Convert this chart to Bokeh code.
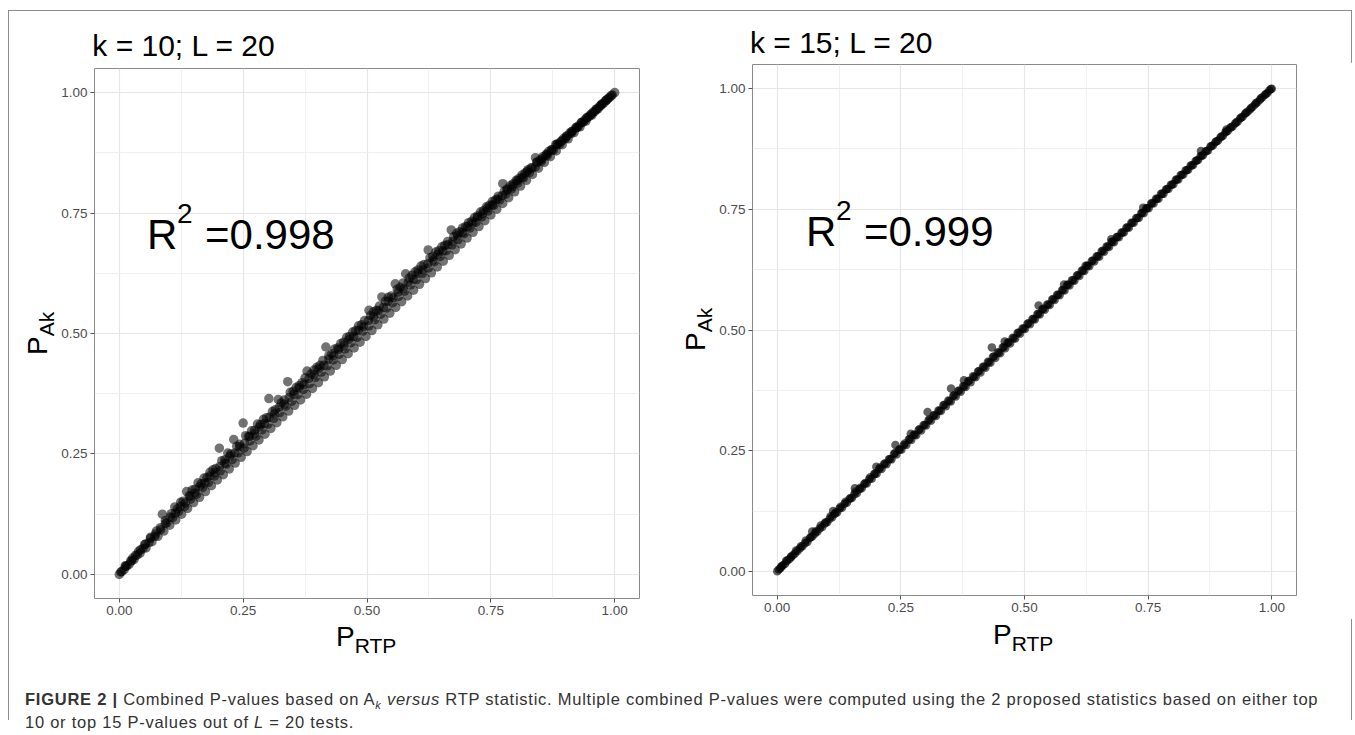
import math
from bokeh.plotting import figure
from bokeh.models import Label, FixedTicker, NumeralTickFormatter, Range1d, Div
from bokeh.layouts import row, column
from bokeh.embed import file_html
from bokeh.resources import INLINE

FONT = "Liberation Sans"

tick_values = [0.0, 0.25, 0.5, 0.75, 1.0]
minor_values = [0.125, 0.375, 0.625, 0.875]
panel_titles = ["k = 10; L = 20", "k = 15; L = 20"]
r2_values = ["=0.998", "=0.999"]
x_label_main, x_label_sub = "P", "RTP"
y_label_main, y_label_sub = "P", "Ak"

# ---- panel 1: k = 10 (P_RTP vs P_Ak) ----
rtp_k10 = [
    0.000, 0.005, 0.010, 0.015, 0.020, 0.025, 0.030, 0.036, 0.042, 0.048, 0.054, 0.060, 0.066, 0.072, 0.078,
    0.084, 0.090, 0.096, 0.102, 0.108, 0.114, 0.120, 0.126, 0.132, 0.138, 0.144, 0.150, 0.156, 0.162, 0.168,
    0.174, 0.180, 0.186, 0.192, 0.198, 0.204, 0.210, 0.216, 0.222, 0.228, 0.234, 0.240, 0.246, 0.252, 0.258,
    0.264, 0.270, 0.276, 0.282, 0.288, 0.294, 0.300, 0.306, 0.312, 0.318, 0.324, 0.330, 0.336, 0.342, 0.348,
    0.354, 0.360, 0.366, 0.372, 0.378, 0.384, 0.390, 0.396, 0.402, 0.408, 0.414, 0.420, 0.426, 0.432, 0.438,
    0.444, 0.450, 0.456, 0.462, 0.468, 0.474, 0.480, 0.486, 0.492, 0.498, 0.504, 0.510, 0.516, 0.522, 0.528,
    0.534, 0.540, 0.546, 0.552, 0.558, 0.564, 0.570, 0.576, 0.582, 0.588, 0.594, 0.600, 0.606, 0.612, 0.618,
    0.624, 0.630, 0.636, 0.642, 0.648, 0.654, 0.660, 0.666, 0.672, 0.678, 0.684, 0.690, 0.696, 0.702, 0.708,
    0.714, 0.720, 0.726, 0.732, 0.738, 0.744, 0.750, 0.756, 0.762, 0.768, 0.774, 0.780, 0.786, 0.792, 0.798,
    0.804, 0.810, 0.816, 0.822, 0.828, 0.834, 0.840, 0.846, 0.852, 0.858, 0.864, 0.870, 0.876, 0.882, 0.888,
    0.894, 0.900, 0.906, 0.912, 0.918, 0.924, 0.930, 0.936, 0.942, 0.948, 0.954, 0.960, 0.966, 0.972, 0.978,
    0.984, 0.990, 0.995, 1.000,
    0.012, 0.027, 0.039, 0.051, 0.063, 0.075, 0.087, 0.093, 0.105, 0.112, 0.117, 0.124, 0.129, 0.136, 0.141,
    0.147, 0.153, 0.159, 0.165, 0.171, 0.177, 0.183, 0.189, 0.195, 0.202, 0.207, 0.213, 0.219, 0.225, 0.231,
    0.237, 0.243, 0.250, 0.255, 0.261, 0.267, 0.273, 0.279, 0.285, 0.291, 0.297, 0.302, 0.309, 0.315, 0.321,
    0.327, 0.333, 0.340, 0.345, 0.351, 0.357, 0.363, 0.369, 0.375, 0.379, 0.387, 0.393, 0.399, 0.405, 0.411,
    0.417, 0.423, 0.429, 0.435, 0.441, 0.447, 0.453, 0.459, 0.465, 0.471, 0.477, 0.483, 0.489, 0.495, 0.504,
    0.507, 0.513, 0.519, 0.525, 0.530, 0.537, 0.543, 0.549, 0.557, 0.561, 0.567, 0.573, 0.578, 0.585, 0.591,
    0.597, 0.603, 0.609, 0.615, 0.6235, 0.627, 0.633, 0.639, 0.645, 0.651, 0.657, 0.663, 0.670, 0.675, 0.681,
    0.687, 0.693, 0.699, 0.705, 0.711, 0.717, 0.723, 0.729, 0.735, 0.741, 0.747, 0.753, 0.759, 0.765, 0.774,
    0.777, 0.783, 0.789, 0.795, 0.801, 0.807, 0.813, 0.819, 0.825, 0.831, 0.840, 0.843, 0.849, 0.855, 0.861,
    0.867, 0.873, 0.881, 0.885, 0.891, 0.897, 0.903, 0.909, 0.915, 0.921, 0.927, 0.933, 0.939, 0.945, 0.951,
    0.957, 0.963, 0.969, 0.975, 0.981, 0.987,
    0.003, 0.013, 0.023, 0.033, 0.043, 0.053, 0.063, 0.073, 0.083, 0.093, 0.103, 0.113, 0.123, 0.133, 0.143,
    0.153, 0.163, 0.173, 0.183, 0.193, 0.203, 0.213, 0.223, 0.233, 0.243, 0.253, 0.263, 0.273, 0.283, 0.293,
    0.303, 0.313, 0.323, 0.333, 0.343, 0.353, 0.363, 0.373, 0.383, 0.393, 0.403, 0.413, 0.423, 0.433, 0.443,
    0.453, 0.463, 0.473, 0.483, 0.493, 0.503, 0.513, 0.523, 0.533, 0.543, 0.553, 0.563, 0.573, 0.583, 0.593,
    0.603, 0.613, 0.623, 0.633, 0.643, 0.653, 0.663, 0.673, 0.683, 0.693, 0.703, 0.713, 0.723, 0.733, 0.743,
    0.753, 0.763, 0.773, 0.783, 0.793, 0.803, 0.813, 0.823, 0.833, 0.843, 0.853, 0.863, 0.873, 0.883, 0.893,
    0.903, 0.913, 0.923, 0.933, 0.943, 0.953, 0.963, 0.973, 0.983, 0.993,
]
ak_k10 = [
    0.000, 0.006, 0.010, 0.017, 0.021, 0.028, 0.031, 0.040, 0.044, 0.054, 0.055, 0.066, 0.068, 0.079, 0.079,
    0.093, 0.090, 0.107, 0.102, 0.118, 0.113, 0.131, 0.125, 0.141, 0.137, 0.156, 0.149, 0.166, 0.160, 0.180,
    0.172, 0.191, 0.184, 0.204, 0.196, 0.215, 0.207, 0.229, 0.219, 0.238, 0.231, 0.252, 0.243, 0.262, 0.255,
    0.277, 0.267, 0.287, 0.279, 0.300, 0.291, 0.312, 0.303, 0.324, 0.315, 0.336, 0.327, 0.349, 0.339, 0.359,
    0.351, 0.373, 0.362, 0.384, 0.374, 0.396, 0.386, 0.409, 0.398, 0.420, 0.410, 0.433, 0.422, 0.445, 0.434,
    0.457, 0.446, 0.468, 0.458, 0.481, 0.470, 0.492, 0.482, 0.505, 0.494, 0.516, 0.506, 0.529, 0.518, 0.540,
    0.530, 0.553, 0.542, 0.564, 0.554, 0.577, 0.566, 0.588, 0.578, 0.601, 0.590, 0.612, 0.602, 0.625, 0.614,
    0.636, 0.626, 0.649, 0.638, 0.660, 0.650, 0.672, 0.662, 0.684, 0.674, 0.695, 0.686, 0.707, 0.698, 0.719,
    0.710, 0.731, 0.722, 0.742, 0.734, 0.754, 0.746, 0.766, 0.758, 0.777, 0.770, 0.789, 0.782, 0.800, 0.794,
    0.812, 0.806, 0.823, 0.818, 0.834, 0.830, 0.846, 0.843, 0.857, 0.855, 0.869, 0.867, 0.880, 0.879, 0.892,
    0.892, 0.904, 0.904, 0.915, 0.917, 0.927, 0.929, 0.938, 0.941, 0.950, 0.953, 0.961, 0.966, 0.973, 0.978,
    0.985, 0.990, 0.995, 1.000,
    0.018, 0.034, 0.048, 0.062, 0.077, 0.090, 0.125, 0.112, 0.126, 0.140, 0.136, 0.150, 0.152, 0.172, 0.163,
    0.175, 0.177, 0.190, 0.188, 0.200, 0.201, 0.212, 0.217, 0.220, 0.262, 0.236, 0.238, 0.252, 0.250, 0.280,
    0.266, 0.270, 0.314, 0.288, 0.287, 0.298, 0.299, 0.312, 0.311, 0.322, 0.325, 0.365, 0.338, 0.342, 0.363,
    0.356, 0.362, 0.400, 0.378, 0.380, 0.388, 0.392, 0.398, 0.408, 0.422, 0.416, 0.424, 0.430, 0.434, 0.444,
    0.472, 0.454, 0.458, 0.468, 0.470, 0.479, 0.482, 0.492, 0.494, 0.503, 0.506, 0.516, 0.518, 0.527, 0.548,
    0.537, 0.545, 0.548, 0.557, 0.576, 0.567, 0.575, 0.578, 0.603, 0.592, 0.596, 0.605, 0.624, 0.615, 0.621,
    0.628, 0.632, 0.640, 0.643, 0.6735, 0.657, 0.660, 0.669, 0.672, 0.680, 0.683, 0.691, 0.715, 0.701, 0.708,
    0.711, 0.719, 0.722, 0.730, 0.733, 0.741, 0.744, 0.752, 0.755, 0.763, 0.766, 0.774, 0.777, 0.785, 0.811,
    0.795, 0.800, 0.807, 0.811, 0.818, 0.822, 0.829, 0.833, 0.840, 0.844, 0.865, 0.856, 0.860, 0.867, 0.871,
    0.878, 0.882, 0.8925, 0.894, 0.898, 0.905, 0.909, 0.916, 0.920, 0.927, 0.931, 0.938, 0.943, 0.949, 0.954,
    0.960, 0.965, 0.971, 0.977, 0.983, 0.988,
    0.005, 0.017, 0.028, 0.040, 0.051, 0.063, 0.075, 0.084, 0.097, 0.106, 0.119, 0.127, 0.141, 0.148, 0.162,
    0.169, 0.183, 0.190, 0.204, 0.211, 0.224, 0.231, 0.245, 0.252, 0.265, 0.272, 0.286, 0.292, 0.306, 0.313,
    0.326, 0.333, 0.347, 0.353, 0.367, 0.374, 0.387, 0.394, 0.407, 0.414, 0.427, 0.434, 0.447, 0.454, 0.467,
    0.474, 0.487, 0.494, 0.507, 0.514, 0.527, 0.534, 0.547, 0.554, 0.567, 0.574, 0.586, 0.593, 0.606, 0.613,
    0.625, 0.632, 0.645, 0.652, 0.664, 0.671, 0.684, 0.691, 0.703, 0.710, 0.722, 0.729, 0.741, 0.748, 0.760,
    0.767, 0.779, 0.786, 0.798, 0.805, 0.817, 0.824, 0.836, 0.843, 0.855, 0.862, 0.873, 0.881, 0.892, 0.900,
    0.910, 0.919, 0.928, 0.938, 0.947, 0.956, 0.966, 0.975, 0.984, 0.994,
]

# ---- panel 2: k = 15 ----
rtp_k15 = [
    0.000, 0.003, 0.006, 0.009, 0.012, 0.016, 0.020, 0.024, 0.028, 0.032, 0.036, 0.041, 0.046, 0.051, 0.056,
    0.061, 0.066, 0.071, 0.076, 0.081, 0.086, 0.091, 0.096, 0.101, 0.106, 0.111, 0.116, 0.121, 0.126, 0.131,
    0.136, 0.141, 0.146, 0.151, 0.156, 0.161, 0.166, 0.171, 0.176, 0.181, 0.186, 0.191, 0.196, 0.201, 0.206,
    0.211, 0.216, 0.221, 0.226, 0.231, 0.236, 0.241, 0.246, 0.251, 0.256, 0.261, 0.266, 0.271, 0.276, 0.281,
    0.286, 0.291, 0.296, 0.301, 0.306, 0.311, 0.316, 0.321, 0.326, 0.331, 0.336, 0.341, 0.346, 0.351, 0.356,
    0.361, 0.366, 0.371, 0.376, 0.381, 0.386, 0.391, 0.396, 0.401, 0.406, 0.411, 0.416, 0.421, 0.426, 0.431,
    0.436, 0.441, 0.446, 0.451, 0.456, 0.461, 0.466, 0.471, 0.476, 0.481, 0.486, 0.491, 0.496, 0.501, 0.506,
    0.511, 0.516, 0.521, 0.526, 0.531, 0.536, 0.541, 0.546, 0.551, 0.556, 0.561, 0.566, 0.571, 0.576, 0.581,
    0.586, 0.591, 0.596, 0.601, 0.606, 0.611, 0.616, 0.621, 0.626, 0.631, 0.636, 0.641, 0.646, 0.651, 0.656,
    0.661, 0.666, 0.671, 0.676, 0.681, 0.686, 0.691, 0.696, 0.701, 0.706, 0.711, 0.716, 0.721, 0.726, 0.731,
    0.736, 0.741, 0.746, 0.751, 0.756, 0.761, 0.766, 0.771, 0.776, 0.781, 0.786, 0.791, 0.796, 0.801, 0.806,
    0.811, 0.816, 0.821, 0.826, 0.831, 0.836, 0.841, 0.846, 0.851, 0.856, 0.861, 0.866, 0.871, 0.876, 0.881,
    0.886, 0.891, 0.896, 0.901, 0.906, 0.911, 0.916, 0.921, 0.926, 0.931, 0.936, 0.941, 0.946, 0.951, 0.956,
    0.961, 0.966, 0.971, 0.976, 0.981, 0.986, 0.991, 0.995, 1.000,
    0.008, 0.018, 0.028, 0.038, 0.048, 0.058, 0.068, 0.078, 0.088, 0.098, 0.108, 0.118, 0.128, 0.138, 0.148,
    0.158, 0.168, 0.178, 0.188, 0.198, 0.208, 0.218, 0.228, 0.238, 0.248, 0.258, 0.268, 0.278, 0.288, 0.298,
    0.308, 0.318, 0.328, 0.338, 0.348, 0.358, 0.368, 0.378, 0.388, 0.398, 0.408, 0.418, 0.428, 0.438, 0.448,
    0.458, 0.468, 0.478, 0.488, 0.498, 0.508, 0.518, 0.528, 0.538, 0.548, 0.558, 0.568, 0.578, 0.588, 0.598,
    0.608, 0.618, 0.628, 0.638, 0.648, 0.658, 0.668, 0.678, 0.688, 0.698, 0.708, 0.718, 0.728, 0.738, 0.748,
    0.758, 0.768, 0.778, 0.788, 0.798, 0.808, 0.818, 0.828, 0.838, 0.848, 0.858, 0.868, 0.878, 0.888, 0.898,
    0.908, 0.918, 0.928, 0.938, 0.948, 0.958, 0.968, 0.978, 0.988, 0.998,
    0.0708, 0.113, 0.157, 0.2004, 0.239, 0.270, 0.304, 0.3515, 0.3776, 0.434, 0.460, 0.5286, 0.580, 0.6235,
    0.6754, 0.740, 0.8568, 0.9085,
]
ak_k15 = [
    0.000, 0.004, 0.006, 0.010, 0.013, 0.016, 0.022, 0.025, 0.029, 0.034, 0.037, 0.042, 0.048, 0.052, 0.058,
    0.061, 0.069, 0.072, 0.078, 0.082, 0.089, 0.092, 0.099, 0.102, 0.109, 0.112, 0.119, 0.122, 0.130, 0.132,
    0.140, 0.142, 0.150, 0.152, 0.160, 0.162, 0.170, 0.172, 0.181, 0.182, 0.191, 0.192, 0.201, 0.202, 0.212,
    0.212, 0.222, 0.222, 0.232, 0.232, 0.243, 0.242, 0.252, 0.252, 0.262, 0.262, 0.273, 0.272, 0.283, 0.282,
    0.293, 0.292, 0.303, 0.302, 0.313, 0.312, 0.323, 0.322, 0.333, 0.332, 0.344, 0.342, 0.354, 0.352, 0.364,
    0.362, 0.374, 0.372, 0.384, 0.382, 0.394, 0.392, 0.404, 0.402, 0.414, 0.412, 0.424, 0.422, 0.434, 0.432,
    0.444, 0.442, 0.454, 0.452, 0.464, 0.462, 0.474, 0.472, 0.484, 0.482, 0.494, 0.492, 0.503, 0.502, 0.513,
    0.512, 0.523, 0.522, 0.533, 0.532, 0.543, 0.542, 0.553, 0.552, 0.563, 0.562, 0.573, 0.572, 0.583, 0.582,
    0.593, 0.592, 0.603, 0.602, 0.613, 0.612, 0.623, 0.622, 0.633, 0.632, 0.643, 0.642, 0.653, 0.652, 0.663,
    0.662, 0.673, 0.672, 0.683, 0.682, 0.692, 0.692, 0.702, 0.702, 0.712, 0.712, 0.722, 0.722, 0.732, 0.732,
    0.742, 0.742, 0.752, 0.752, 0.762, 0.762, 0.772, 0.772, 0.782, 0.782, 0.791, 0.792, 0.801, 0.802, 0.811,
    0.812, 0.821, 0.822, 0.831, 0.832, 0.841, 0.842, 0.850, 0.852, 0.860, 0.862, 0.870, 0.872, 0.880, 0.882,
    0.889, 0.892, 0.899, 0.902, 0.909, 0.912, 0.919, 0.922, 0.928, 0.932, 0.938, 0.942, 0.948, 0.952, 0.957,
    0.962, 0.967, 0.972, 0.977, 0.982, 0.987, 0.991, 0.996, 1.000,
    0.010, 0.022, 0.031, 0.043, 0.052, 0.064, 0.071, 0.083, 0.095, 0.102, 0.114, 0.122, 0.134, 0.144, 0.152,
    0.165, 0.173, 0.183, 0.195, 0.203, 0.215, 0.224, 0.233, 0.245, 0.253, 0.265, 0.274, 0.283, 0.295, 0.303,
    0.315, 0.324, 0.333, 0.345, 0.353, 0.365, 0.374, 0.383, 0.395, 0.403, 0.415, 0.424, 0.433, 0.445, 0.453,
    0.465, 0.474, 0.483, 0.495, 0.503, 0.514, 0.523, 0.533, 0.544, 0.553, 0.564, 0.573, 0.583, 0.594, 0.603,
    0.614, 0.623, 0.633, 0.644, 0.653, 0.664, 0.673, 0.683, 0.693, 0.702, 0.713, 0.722, 0.732, 0.743, 0.752,
    0.763, 0.772, 0.782, 0.792, 0.801, 0.812, 0.821, 0.831, 0.841, 0.851, 0.861, 0.871, 0.881, 0.891, 0.901,
    0.911, 0.920, 0.930, 0.940, 0.950, 0.960, 0.970, 0.980, 0.989, 0.999,
    0.0826, 0.125, 0.172, 0.2168, 0.2616, 0.285, 0.330, 0.3786, 0.3957, 0.464, 0.476, 0.5506, 0.594, 0.633,
    0.688, 0.7535, 0.8706, 0.9153,
]

BORDER = "#8c8c8c"
TXT = "font-family:'Liberation Sans',Arial,sans-serif;color:black;white-space:nowrap;"


def make_figure(xs, ys, r2, width, height, mb, r2_xy, msize, malpha):
    left, right, top, bottom = mb
    p = figure(width=width, height=height, title=None,
               x_range=Range1d(-0.05, 1.05), y_range=Range1d(-0.05, 1.05),
               output_backend="svg", toolbar_location=None,
               min_border_left=left, min_border_right=right,
               min_border_top=top, min_border_bottom=bottom, margin=(0, 0, 0, 0))
    p.background_fill_color = "white"
    p.border_fill_color = "white"
    p.outline_line_color = "#8a8a8a"
    p.outline_line_width = 1

    ticker = FixedTicker(ticks=tick_values, minor_ticks=minor_values)
    for ax in (p.xaxis[0], p.yaxis[0]):
        ax.ticker = ticker
        ax.formatter = NumeralTickFormatter(format="0.00")
        ax.axis_label = None
        ax.axis_line_color = None
        ax.major_tick_line_color = "#555555"
        ax.major_tick_out = 4
        ax.major_tick_in = 0
        ax.minor_tick_line_color = None
        ax.major_label_text_font = FONT
        ax.major_label_text_font_size = "13.5px"
        ax.major_label_text_color = "#4d4d4d"
        ax.major_label_standoff = 3
    for g in (p.xgrid[0], p.ygrid[0]):
        g.ticker = ticker
        g.grid_line_color = "#e6e6e6"
        g.grid_line_width = 1.2
        g.minor_grid_line_color = "#eeeeee"
        g.minor_grid_line_width = 0.9

    p.scatter(xs, ys, size=msize, fill_color="black", fill_alpha=malpha, line_color=None)

    rx, ry = r2_xy
    common = dict(x=rx, y=ry, x_units="data", y_units="data", text_font=FONT,
                  text_color="black", text_align="left", text_baseline="alphabetic")
    p.add_layout(Label(text="R", text_font_size="42px", **common))
    p.add_layout(Label(text="2", text_font_size="28px", x_offset=30, y_offset=21, **common))
    p.add_layout(Label(text=r2, text_font_size="42px", x_offset=58, **common))
    return p


def title_div(text, w, h, left, top):
    html = (f'<div style="position:relative;width:{w}px;height:{h}px;">'
            f'<div style="position:absolute;left:{left}px;top:{top}px;{TXT}'
            f'font-size:30px;line-height:30px;">{text}</div></div>')
    return Div(text=html, width=w, height=h, margin=(0, 0, 0, 0))


def xlabel_div(w, h, left, top):
    html = (f'<div style="position:relative;width:{w}px;height:{h}px;">'
            f'<div style="position:absolute;left:{left}px;top:{top}px;{TXT}'
            f'font-size:28px;line-height:28px;">{x_label_main}'
            f'<span style="font-size:21px;position:relative;top:7px;">{x_label_sub}</span>'
            f'</div></div>')
    return Div(text=html, width=w, height=h, margin=(0, 0, 0, 0))


def ylabel_div(w, h, left, top):
    html = (f'<div style="position:relative;width:{w}px;height:{h}px;">'
            f'<div style="position:absolute;left:{left}px;top:{top}px;{TXT}'
            f'font-size:28px;line-height:28px;transform:rotate(-90deg);transform-origin:0 0;">'
            f'{y_label_main}<span style="font-size:21px;position:relative;top:7px;">{y_label_sub}</span>'
            f'</div></div>')
    return Div(text=html, width=w, height=h, margin=(0, 0, 0, 0))


# left panel: column x 9..671, y 11..660
f1 = make_figure(rtp_k10, ak_k10, r2_values[0], 614, 556, (37, 32, 2, 24), (0.056, 0.706), 9.5, 0.55)
panel1 = column(
    title_div(panel_titles[0], 662, 55, 83.3, 20.3),
    row(ylabel_div(48, 556, 15, 288.6), f1),
    xlabel_div(662, 38, 327, 1.3),
)

# right panel: column x 671..1353
f2 = make_figure(rtp_k15, ak_k15, r2_values[1], 637, 557, (35, 57, 2, 24), (0.058, 0.705), 8.5, 0.62)
panel2 = column(
    title_div(panel_titles[1], 682, 51, 79, 16.9),
    row(ylabel_div(45, 557, 11.3, 289.1), f2),
    xlabel_div(682, 41, 322, 1.6),
)

caption_html = (
    '<div style="position:relative;width:1344px;height:60px;">'
    '<div style="position:absolute;left:16px;top:28px;font-family:\'Liberation Sans\',Arial,sans-serif;'
    'font-size:16.5px;letter-spacing:0.75px;line-height:23px;color:#333333;white-space:nowrap;">'
    '<b>FIGURE 2 |</b> Combined P-values based on A<sub style="font-size:11px;line-height:0;">'
    '<i>k</i></sub> <i>versus</i> RTP statistic. Multiple combined P-values were computed using '
    'the 2 proposed statistics based on either top<br>'
    '10 or top 15 P-values out of <i>L</i> = 20 tests.</div></div>'
)
cap = Div(text=caption_html, width=1344, height=60, margin=(0, 0, 0, 0))

layout = column(
    row(panel1, panel2),
    cap,
    styles={
        "border-top": "1px solid " + BORDER,
        "border-left": "1px solid " + BORDER,
        "border-right": "1px solid " + BORDER,
        "margin-top": "10px",
        "margin-left": "8px",
        "width": "1344px",
        "background": "white",
    },
)

open("out.html", "w").write(file_html(layout, INLINE))
